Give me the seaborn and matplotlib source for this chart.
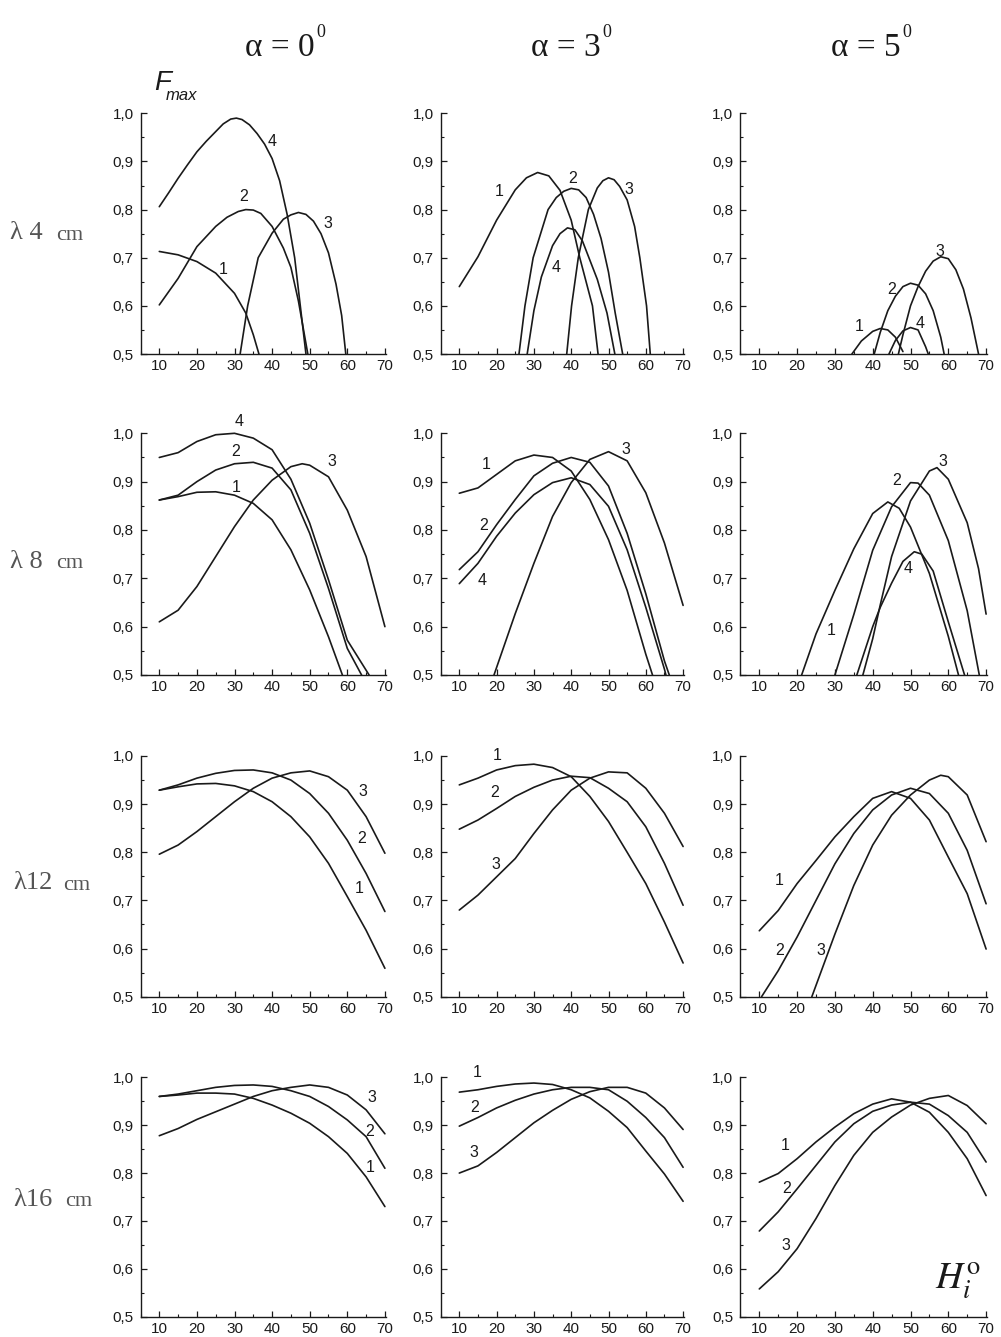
import matplotlib
matplotlib.use("Agg")
import matplotlib.pyplot as plt
import seaborn as sns
import pandas as pd
from matplotlib.ticker import MultipleLocator, FuncFormatter

# ---------------- data ----------------
X5 = [10, 15, 20, 25, 30, 35, 40, 45, 50, 55, 60, 65, 70]

col_alpha = ["α = 0", "α = 3", "α = 5"]
col_sup = ["0", "0", "0"]
row_main = ["λ 4", "λ 8", "λ12", "λ16"]
row_unit = ["cm", "cm", "cm", "cm"]
x_ticks = [10, 20, 30, 40, 50, 60, 70]
y_ticks = [0.5, 0.6, 0.7, 0.8, 0.9, 1.0]

# λ4 cm, α=0
l4_a0_c1_x = [10, 15, 20, 25, 30, 33, 35, 36.5]
l4_a0_c1_y = [0.713, 0.706, 0.692, 0.668, 0.626, 0.585, 0.54, 0.5]
l4_a0_c2_x = [10, 15, 20, 25, 28, 31, 33, 35, 37, 40, 43, 45, 47, 49.5]
l4_a0_c2_y = [0.602, 0.657, 0.723, 0.765, 0.784, 0.796, 0.80, 0.799, 0.792, 0.765, 0.72, 0.68, 0.61, 0.5]
l4_a0_c3_x = [31.5, 33.5, 36.3, 40, 43, 45, 47, 49, 51, 53, 55, 57, 58.5, 59.6]
l4_a0_c3_y = [0.5, 0.6, 0.7, 0.751, 0.78, 0.789, 0.794, 0.79, 0.776, 0.75, 0.71, 0.645, 0.58, 0.5]
l4_a0_c4_x = [10, 12.5, 15, 17.5, 20, 22.5, 25, 27, 29, 30.5, 32, 34, 36, 38, 40, 42, 44, 46, 47.5, 49]
l4_a0_c4_y = [0.806, 0.835, 0.865, 0.893, 0.92, 0.942, 0.962, 0.978, 0.988, 0.99, 0.987, 0.976, 0.958, 0.936, 0.906, 0.86, 0.79, 0.70, 0.60, 0.5]

# λ4 cm, α=3
l4_a3_c1_x = [10, 15, 20, 25, 28, 31, 34, 37, 40, 42.3, 45.7, 47.2]
l4_a3_c1_y = [0.64, 0.702, 0.778, 0.841, 0.866, 0.877, 0.87, 0.84, 0.778, 0.70, 0.60, 0.5]
l4_a3_c2_x = [26, 27.6, 29.8, 33.8, 36, 38, 40, 42, 44, 46, 48, 50, 51.8, 53.8]
l4_a3_c2_y = [0.5, 0.6, 0.7, 0.8, 0.825, 0.838, 0.844, 0.841, 0.825, 0.79, 0.74, 0.67, 0.585, 0.5]
l4_a3_c3_x = [38.8, 40.1, 41.9, 44.6, 47, 48.5, 50, 51.5, 53, 55, 57, 58.4, 60.2, 61.2]
l4_a3_c3_y = [0.5, 0.6, 0.7, 0.8, 0.845, 0.86, 0.866, 0.862, 0.848, 0.82, 0.765, 0.70, 0.60, 0.5]
l4_a3_c4_x = [28.2, 30, 32, 35, 37, 39, 41, 43, 45, 47, 49.6, 51.7]
l4_a3_c4_y = [0.5, 0.59, 0.66, 0.725, 0.75, 0.762, 0.758, 0.735, 0.695, 0.655, 0.585, 0.5]

# λ4 cm, α=5
l4_a5_c1_x = [34.5, 37, 40, 42, 44, 46, 48]
l4_a5_c1_y = [0.5, 0.527, 0.547, 0.553, 0.55, 0.535, 0.505]
l4_a5_c2_x = [40.4, 42, 44, 46, 48, 50, 52, 54, 56, 58, 58.9]
l4_a5_c2_y = [0.5, 0.545, 0.59, 0.62, 0.64, 0.647, 0.643, 0.625, 0.59, 0.535, 0.5]
l4_a5_c3_x = [46.8, 48, 50, 52, 54, 56, 58, 60, 62, 64, 66, 68]
l4_a5_c3_y = [0.5, 0.54, 0.60, 0.64, 0.672, 0.693, 0.702, 0.698, 0.675, 0.635, 0.575, 0.5]
l4_a5_c4_x = [44.3, 46, 48, 50, 52, 54, 54.7]
l4_a5_c4_y = [0.5, 0.528, 0.548, 0.555, 0.55, 0.515, 0.5]

# λ8 cm, α=0
l8_a0_c1_x = [10, 15, 20, 25, 30, 35, 40, 45, 50, 55, 58.7]
l8_a0_c1_y = [0.862, 0.869, 0.878, 0.879, 0.872, 0.855, 0.821, 0.759, 0.676, 0.579, 0.5]
l8_a0_c2_x = [10, 15, 20, 25, 30, 35, 40, 45, 50, 55, 60, 63.8]
l8_a0_c2_y = [0.862, 0.872, 0.90, 0.924, 0.937, 0.94, 0.928, 0.883, 0.793, 0.679, 0.555, 0.5]
l8_a0_c3_x = [10, 15, 20, 25, 30, 35, 40, 45, 48, 50, 55, 60, 65, 70]
l8_a0_c3_y = [0.61, 0.634, 0.683, 0.745, 0.807, 0.862, 0.903, 0.931, 0.937, 0.934, 0.91, 0.841, 0.745, 0.60]
l8_a0_c4_x = [10, 15, 20, 25, 30, 35, 40, 45, 50, 55, 60, 65.8]
l8_a0_c4_y = [0.95, 0.96, 0.983, 0.997, 1.0, 0.99, 0.966, 0.905, 0.814, 0.697, 0.572, 0.5]

# λ8 cm, α=3
l8_a3_c1_x = [10, 15, 20, 25, 30, 35, 40, 45, 50, 55, 60, 61.8]
l8_a3_c1_y = [0.876, 0.887, 0.915, 0.943, 0.955, 0.95, 0.922, 0.863, 0.78, 0.675, 0.543, 0.5]
l8_a3_c2_x = [10, 15, 20, 25, 30, 35, 40, 45, 50, 55, 60, 65, 66.3]
l8_a3_c2_y = [0.718, 0.755, 0.811, 0.863, 0.912, 0.938, 0.95, 0.94, 0.891, 0.793, 0.668, 0.529, 0.5]
l8_a3_c3_x = [19.3, 25, 30, 35, 40, 45, 50, 55, 60, 65, 70]
l8_a3_c3_y = [0.5, 0.627, 0.731, 0.828, 0.898, 0.946, 0.962, 0.943, 0.877, 0.773, 0.644]
l8_a3_c4_x = [10, 15, 20, 25, 30, 35, 40, 45, 50, 55, 60, 65, 65.4]
l8_a3_c4_y = [0.689, 0.731, 0.787, 0.835, 0.873, 0.898, 0.908, 0.894, 0.849, 0.759, 0.64, 0.512, 0.5]

# λ8 cm, α=5
l8_a5_c1_x = [21.2, 25, 30, 35, 40, 44, 47, 50, 55, 60, 62.7]
l8_a5_c1_y = [0.5, 0.585, 0.675, 0.761, 0.834, 0.858, 0.845, 0.806, 0.71, 0.58, 0.5]
l8_a5_c2_x = [30, 35, 40, 45, 50, 52, 55, 60, 65, 68.2]
l8_a5_c2_y = [0.5, 0.625, 0.758, 0.848, 0.898, 0.897, 0.872, 0.778, 0.633, 0.5]
l8_a5_c3_x = [37.4, 40, 42, 45, 50, 55, 57, 60, 65, 68, 70]
l8_a5_c3_y = [0.5, 0.575, 0.645, 0.745, 0.86, 0.922, 0.929, 0.905, 0.815, 0.72, 0.626]
l8_a5_c4_x = [35.8, 40, 42, 45, 48, 51, 53, 56, 60, 64.3]
l8_a5_c4_y = [0.5, 0.60, 0.64, 0.69, 0.735, 0.755, 0.75, 0.715, 0.61, 0.5]

# λ12 cm
l12_a0_c1_y = [0.929, 0.936, 0.942, 0.943, 0.938, 0.926, 0.905, 0.874, 0.832, 0.777, 0.708, 0.638, 0.559]
l12_a0_c2_y = [0.929, 0.94, 0.954, 0.964, 0.97, 0.971, 0.965, 0.95, 0.922, 0.881, 0.825, 0.756, 0.677]
l12_a0_c3_y = [0.796, 0.815, 0.843, 0.874, 0.905, 0.933, 0.954, 0.965, 0.969, 0.957, 0.929, 0.874, 0.798]
l12_a3_c1_y = [0.94, 0.954, 0.971, 0.98, 0.983, 0.976, 0.957, 0.916, 0.864, 0.80, 0.735, 0.655, 0.57]
l12_a3_c2_y = [0.848, 0.867, 0.891, 0.916, 0.935, 0.95, 0.958, 0.955, 0.933, 0.905, 0.853, 0.777, 0.69]
l12_a3_c3_y = [0.68, 0.711, 0.749, 0.787, 0.839, 0.888, 0.929, 0.954, 0.967, 0.965, 0.933, 0.881, 0.812]
l12_a5_c1_y = [0.637, 0.679, 0.735, 0.783, 0.832, 0.874, 0.912, 0.926, 0.912, 0.867, 0.79, 0.714, 0.599]
l12_a5_c2_x = [10.6, 15, 20, 25, 30, 35, 40, 45, 50, 55, 60, 65, 70]
l12_a5_c2_y = [0.5, 0.554, 0.624, 0.70, 0.776, 0.839, 0.888, 0.919, 0.933, 0.922, 0.881, 0.804, 0.693]
l12_a5_c3_x = [23.9, 30, 35, 40, 45, 50, 55, 58, 60, 65, 70]
l12_a5_c3_y = [0.5, 0.63, 0.731, 0.815, 0.877, 0.919, 0.95, 0.96, 0.957, 0.919, 0.822]

# λ16 cm
l16_a0_c1_y = [0.96, 0.963, 0.967, 0.967, 0.965, 0.956, 0.942, 0.925, 0.904, 0.876, 0.841, 0.792, 0.73]
l16_a0_c2_y = [0.96, 0.965, 0.972, 0.979, 0.983, 0.984, 0.981, 0.972, 0.96, 0.939, 0.911, 0.876, 0.81]
l16_a0_c3_y = [0.878, 0.893, 0.912, 0.928, 0.944, 0.96, 0.972, 0.979, 0.984, 0.979, 0.963, 0.932, 0.882]
l16_a3_c1_y = [0.969, 0.974, 0.981, 0.986, 0.988, 0.985, 0.974, 0.957, 0.929, 0.895, 0.846, 0.798, 0.741]
l16_a3_c2_y = [0.898, 0.916, 0.936, 0.952, 0.965, 0.974, 0.979, 0.979, 0.974, 0.95, 0.916, 0.874, 0.812]
l16_a3_c3_y = [0.80, 0.815, 0.843, 0.874, 0.905, 0.931, 0.954, 0.97, 0.979, 0.979, 0.967, 0.936, 0.891]
l16_a5_c1_y = [0.781, 0.799, 0.83, 0.865, 0.896, 0.924, 0.944, 0.955, 0.948, 0.927, 0.885, 0.83, 0.753]
l16_a5_c2_y = [0.679, 0.719, 0.767, 0.816, 0.865, 0.903, 0.929, 0.942, 0.948, 0.944, 0.92, 0.885, 0.823]
l16_a5_c3_y = [0.558, 0.594, 0.642, 0.705, 0.774, 0.837, 0.885, 0.917, 0.942, 0.956, 0.962, 0.941, 0.903]

# curve number labels (x, y in data units)
lab_l4_a0 = [("1", 27.0, 0.675), ("2", 32.3, 0.827), ("3", 54.8, 0.771), ("4", 39.9, 0.941)]
lab_l4_a3 = [("1", 20.7, 0.837), ("2", 40.4, 0.865), ("3", 55.5, 0.841), ("4", 35.9, 0.679)]
lab_l4_a5 = [("1", 36.5, 0.557), ("2", 44.9, 0.634), ("3", 57.7, 0.713), ("4", 52.5, 0.564)]
lab_l8_a0 = [("1", 30.4, 0.888), ("2", 30.4, 0.962), ("3", 55.8, 0.941), ("4", 31.3, 1.024)]
lab_l8_a3 = [("1", 17.1, 0.936), ("2", 16.4, 0.809), ("3", 54.7, 0.967), ("4", 16.0, 0.696)]
lab_l8_a5 = [("1", 28.9, 0.593), ("2", 46.4, 0.903), ("3", 58.5, 0.941), ("4", 49.5, 0.720)]
lab_l12_a0 = [("1", 63.1, 0.725), ("2", 63.8, 0.829), ("3", 64.2, 0.926)]
lab_l12_a3 = [("1", 20.2, 1.002), ("2", 19.6, 0.924), ("3", 19.8, 0.774)]
lab_l12_a5 = [("1", 15.3, 0.742), ("2", 15.3, 0.597), ("3", 26.3, 0.597)]
lab_l16_a0 = [("1", 66.0, 0.812), ("2", 66.0, 0.886), ("3", 66.6, 0.958)]
lab_l16_a3 = [("1", 14.7, 1.011), ("2", 14.2, 0.936), ("3", 14.0, 0.843)]
lab_l16_a5 = [("1", 16.8, 0.858), ("2", 17.1, 0.767), ("3", 17.1, 0.649)]

# ---------------- panel table built from the arrays ----------------
panels = [
    [
        ([(l4_a0_c1_x, l4_a0_c1_y), (l4_a0_c2_x, l4_a0_c2_y), (l4_a0_c3_x, l4_a0_c3_y), (l4_a0_c4_x, l4_a0_c4_y)], lab_l4_a0),
        ([(l4_a3_c1_x, l4_a3_c1_y), (l4_a3_c2_x, l4_a3_c2_y), (l4_a3_c3_x, l4_a3_c3_y), (l4_a3_c4_x, l4_a3_c4_y)], lab_l4_a3),
        ([(l4_a5_c1_x, l4_a5_c1_y), (l4_a5_c2_x, l4_a5_c2_y), (l4_a5_c3_x, l4_a5_c3_y), (l4_a5_c4_x, l4_a5_c4_y)], lab_l4_a5),
    ],
    [
        ([(l8_a0_c1_x, l8_a0_c1_y), (l8_a0_c2_x, l8_a0_c2_y), (l8_a0_c3_x, l8_a0_c3_y), (l8_a0_c4_x, l8_a0_c4_y)], lab_l8_a0),
        ([(l8_a3_c1_x, l8_a3_c1_y), (l8_a3_c2_x, l8_a3_c2_y), (l8_a3_c3_x, l8_a3_c3_y), (l8_a3_c4_x, l8_a3_c4_y)], lab_l8_a3),
        ([(l8_a5_c1_x, l8_a5_c1_y), (l8_a5_c2_x, l8_a5_c2_y), (l8_a5_c3_x, l8_a5_c3_y), (l8_a5_c4_x, l8_a5_c4_y)], lab_l8_a5),
    ],
    [
        ([(X5, l12_a0_c1_y), (X5, l12_a0_c2_y), (X5, l12_a0_c3_y)], lab_l12_a0),
        ([(X5, l12_a3_c1_y), (X5, l12_a3_c2_y), (X5, l12_a3_c3_y)], lab_l12_a3),
        ([(X5, l12_a5_c1_y), (l12_a5_c2_x, l12_a5_c2_y), (l12_a5_c3_x, l12_a5_c3_y)], lab_l12_a5),
    ],
    [
        ([(X5, l16_a0_c1_y), (X5, l16_a0_c2_y), (X5, l16_a0_c3_y)], lab_l16_a0),
        ([(X5, l16_a3_c1_y), (X5, l16_a3_c2_y), (X5, l16_a3_c3_y)], lab_l16_a3),
        ([(X5, l16_a5_c1_y), (X5, l16_a5_c2_y), (X5, l16_a5_c3_y)], lab_l16_a5),
    ],
]

# ---------------- styling / layout ----------------
sns.set_style("ticks")
plt.rcParams["font.family"] = ["Liberation Sans", "DejaVu Sans"]
plt.rcParams["mathtext.fontset"] = "stix"
SERIF = ["Liberation Serif", "DejaVu Serif"]

W, H = 1001, 1337
fig = plt.figure(figsize=(W / 100, H / 100), dpi=100)
fig.patch.set_facecolor("white")

XMIN, XMAX = 5.0, 70.3
col_x10 = [159.3, 459.3, 759.3]      # pixel position of x=10
col_unit = [3.76, 3.73, 3.78]        # pixels per degree
row_top = [113.3, 433.3, 756.0, 1077.3]     # pixel y of F=1.0
row_bot = [354.0, 675.0, 996.7, 1316.7]     # pixel y of F=0.5

fmt = FuncFormatter(lambda v, _: f"{v:.1f}".replace(".", ","))
ink = "#1a1a1a"

for r in range(4):
    for c in range(3):
        left_px = col_x10[c] - (10 - XMIN) * col_unit[c]
        width_px = (XMAX - XMIN) * col_unit[c]
        ax = fig.add_axes([left_px / W, 1 - row_bot[r] / H,
                           width_px / W, (row_bot[r] - row_top[r]) / H])
        ax.set_facecolor("none")
        curves, labels = panels[r][c]
        frames = []
        for i, (xs, ys) in enumerate(curves):
            frames.append(pd.DataFrame({"H": xs, "F": ys, "curve": i + 1}))
        df = pd.concat(frames, ignore_index=True)
        sns.lineplot(data=df, x="H", y="F", units="curve", estimator=None,
                     sort=False, color=ink, lw=1.2, ax=ax, legend=False)
        for ln in ax.lines:
            ln.set_clip_on(False)
            ln.set_solid_joinstyle("round")
        for txt, lx, ly in labels:
            ax.text(lx, ly, txt, ha="center", va="center", fontsize=11.5,
                    color=ink, clip_on=False)
        ax.set_xlim(XMIN, XMAX)
        ax.set_ylim(0.5, 1.0)
        ax.set_xticks(x_ticks)
        ax.set_yticks(y_ticks)
        ax.xaxis.set_minor_locator(MultipleLocator(5))
        ax.yaxis.set_minor_locator(MultipleLocator(0.05))
        ax.yaxis.set_major_formatter(fmt)
        ax.set_xlabel("")
        ax.set_ylabel("")
        sns.despine(ax=ax)
        for s in ("left", "bottom"):
            ax.spines[s].set_linewidth(1.0)
            ax.spines[s].set_color(ink)
        ax.tick_params(which="major", direction="in", length=4, width=0.9,
                       colors=ink, labelsize=11, pad=3.5)
        ax.tick_params(which="minor", direction="in", length=2, width=0.8,
                       colors=ink)
        ax.tick_params(axis="y", which="major", pad=5)

def fx(px):
    return px / W

def fy(py):
    return 1 - py / H

renderer = fig.canvas.get_renderer()

# column titles: "α = n" with a raised small "0" right after it
title_left = [245, 531, 831]
for i in range(3):
    t = fig.text(fx(title_left[i]), fy(56), col_alpha[i], ha="left", va="baseline",
                 fontsize=24, color=ink, family=SERIF)
    bb = t.get_window_extent(renderer=renderer)
    fig.text(bb.x1 / W + 2 / W, fy(37), col_sup[i], ha="left", va="baseline",
             fontsize=13, color=ink, family=SERIF)

# row labels
row_cy = [233, 562, 883, 1200]
row_main_x = [10, 10, 13, 13]
row_unit_x = [56, 56, 63, 65]
for i in range(4):
    fig.text(fx(row_main_x[i]), fy(row_cy[i]), row_main[i], ha="left", va="center",
             fontsize=19, color="#555555", family=SERIF)
    fig.text(fx(row_unit_x[i]), fy(row_cy[i] + 2), row_unit[i], ha="left", va="center",
             fontsize=16, color="#555555", family=SERIF)

# axis annotations
fig.text(fx(154), fy(90), "F", ha="left", va="baseline", fontsize=20,
         style="italic", color=ink)
fig.text(fx(166), fy(100), "max", ha="left", va="baseline", fontsize=12,
         style="italic", color=ink)
fig.text(fx(958), fy(1281), r"$H_i^{\mathrm{o}}$", ha="center", va="center",
         fontsize=27, color=ink)

fig.savefig("out.png", dpi=100, facecolor="white")
